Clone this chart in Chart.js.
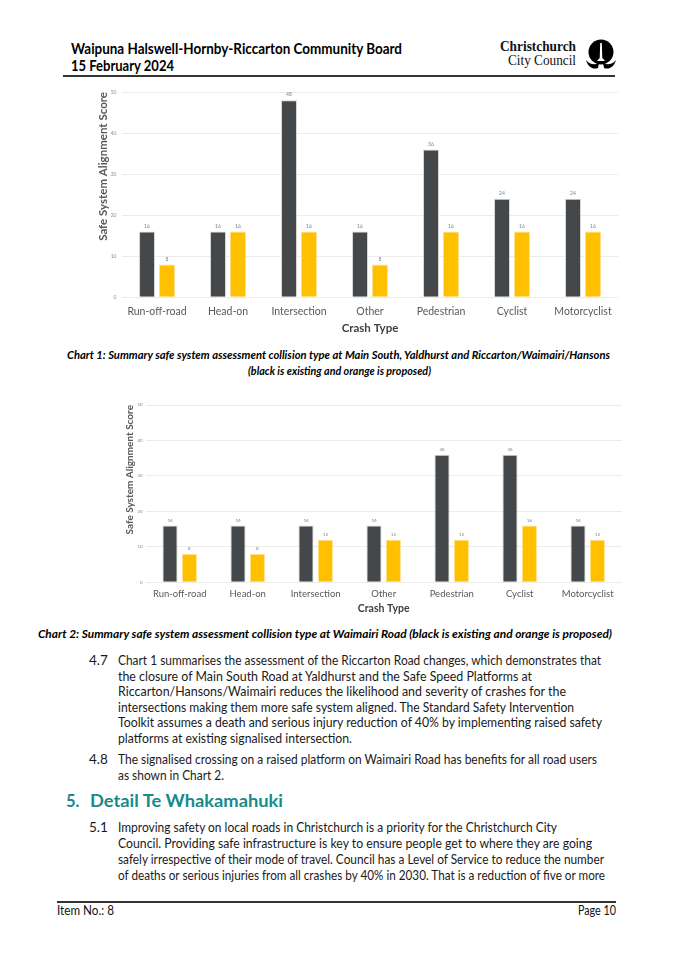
<!DOCTYPE html>
<html><head><meta charset="utf-8">
<script src="https://cdn.jsdelivr.net/npm/chart.js@4/dist/chart.umd.min.js"></script>
<style>
html,body{margin:0;padding:0;background:#fff;}
body{width:675px;height:954px;position:relative;overflow:hidden;font-family:Lato,"Noto Sans",sans-serif;color:#111;}
.t{position:absolute;white-space:nowrap;transform-origin:0 50%;line-height:16px;height:16px;}
.hd{font-weight:700;font-size:14.5px;color:#000;}
.cap{font-weight:700;font-style:italic;font-size:11px;color:#000;}
.bd{font-size:13.5px;color:#1a1a1a;}
.num{font-size:13.5px;color:#1a1a1a;}
.h5{font-weight:700;font-size:16.5px;color:#178a8c;line-height:22px;height:22px;}
.ft{font-size:12.5px;color:#111;}
.rule{position:absolute;background:#333;}
.chartbox{position:absolute;}
.logo1{position:absolute;font-family:"Liberation Serif","DejaVu Serif",serif;font-weight:700;font-size:15px;line-height:15px;white-space:nowrap;transform-origin:0 50%;}
.logo2{position:absolute;font-family:"Liberation Serif","DejaVu Serif",serif;font-size:14.5px;line-height:15px;white-space:nowrap;transform-origin:0 50%;}
</style></head>
<body>
<!-- header -->
<div class="t hd" style="left:71px;top:41px;" data-w="331">Waipuna Halswell-Hornby-Riccarton Community Board</div>
<div class="t hd" style="left:71px;top:58px;" data-w="103">15 February 2024</div>
<div class="rule" style="left:63px;top:75px;width:552px;height:1.5px;"></div>
<div class="logo1" style="left:500px;top:39px;" data-w="76">Christchurch</div>
<div class="logo2" style="left:508px;top:53px;" data-w="68">City Council</div>
<svg style="position:absolute;left:580px;top:38px;" width="42" height="36" viewBox="0 0 42 36">
  <circle cx="21" cy="14" r="12.5" fill="#000"/>
  <path d="M20.2 5 L21.8 5 L22.3 20 L25 23 L17 23 L19.7 20 Z" fill="#fff"/>
  <path d="M6 22 C10 27 15 27 19 25 L18 30 C13 32 8 29 6 22 Z" fill="#000"/>
  <path d="M36 22 C32 27 27 27 23 25 L24 30 C29 32 34 29 36 22 Z" fill="#000"/>
</svg>

<!-- chart 1 -->
<div class="chartbox" style="left:80px;top:82px;width:545px;height:258px;"><canvas id="c1"></canvas></div>
<div class="t cap" style="left:67px;top:347px;" data-w="543">Chart 1: Summary safe system assessment collision type at Main South, Yaldhurst and Riccarton/Waimairi/Hansons</div>
<div class="t cap" style="left:248px;top:363px;" data-w="183">(black is existing and orange is proposed)</div>

<!-- chart 2 -->
<div class="chartbox" style="left:120px;top:395px;width:510px;height:225px;"><canvas id="c2"></canvas></div>
<div class="t cap" style="left:38px;top:626px;" data-w="574">Chart 2: Summary safe system assessment collision type at Waimairi Road (black is existing and orange is proposed)</div>

<!-- 4.7 -->
<div class="t num" style="left:89px;top:652px;">4.7</div>
<div class="t bd" style="left:118px;top:652px;" data-w="483">Chart 1 summarises the assessment of the Riccarton Road changes, which demonstrates that</div>
<div class="t bd" style="left:118px;top:667.5px;" data-w="414">the closure of Main South Road at Yaldhurst and the Safe Speed Platforms at</div>
<div class="t bd" style="left:118px;top:683px;" data-w="448">Riccarton/Hansons/Waimairi reduces the likelihood and severity of crashes for the</div>
<div class="t bd" style="left:118px;top:698.5px;" data-w="456">intersections making them more safe system aligned. The Standard Safety Intervention</div>
<div class="t bd" style="left:118px;top:714px;" data-w="484">Toolkit assumes a death and serious injury reduction of 40% by implementing raised safety</div>
<div class="t bd" style="left:118px;top:729.5px;" data-w="234">platforms at existing signalised intersection.</div>

<!-- 4.8 -->
<div class="t num" style="left:89px;top:751px;">4.8</div>
<div class="t bd" style="left:118px;top:751px;" data-w="479">The signalised crossing on a raised platform on Waimairi Road has benefits for all road users</div>
<div class="t bd" style="left:118px;top:766.5px;" data-w="106">as shown in Chart 2.</div>

<!-- 5 -->
<div class="t h5" style="left:66px;top:790px;">5.</div>
<div class="t h5" style="left:90px;top:790px;" data-w="193">Detail Te Whakamahuki</div>

<div class="t num" style="left:89px;top:819px;">5.1</div>
<div class="t bd" style="left:118px;top:819px;" data-w="439">Improving safety on local roads in Christchurch is a priority for the Christchurch City</div>
<div class="t bd" style="left:118px;top:835px;" data-w="474">Council. Providing safe infrastructure is key to ensure people get to where they are going</div>
<div class="t bd" style="left:118px;top:851px;" data-w="486">safely irrespective of their mode of travel. Council has a Level of Service to reduce the number</div>
<div class="t bd" style="left:118px;top:867px;" data-w="487">of deaths or serious injuries from all crashes by 40% in 2030. That is a reduction of five or more</div>

<!-- footer -->
<div class="rule" style="left:57px;top:901px;width:559px;height:1.5px;"></div>
<div class="t ft" style="left:57px;top:903px;" data-w="57">Item No.: 8</div>
<div class="t ft" style="left:578px;top:903px;" data-w="38">Page 10</div>

<script>
// ---- data ----
const categories = ['Run-off-road', 'Head-on', 'Intersection', 'Other', 'Pedestrian', 'Cyclist', 'Motorcyclist'];
const chart1Existing = [16, 16, 48, 16, 36, 24, 24];
const chart1Proposed = [8, 16, 16, 8, 16, 16, 16];
const chart2Existing = [16, 16, 16, 16, 36, 36, 16];
const chart2Proposed = [8, 8, 12, 12, 12, 16, 12];
const yTickValues = [0, 10, 20, 30, 40, 50];
const yAxisTitle = 'Safe System Alignment Score';
const xAxisTitle = 'Crash Type';

// fit text widths
function fitText(){
  document.querySelectorAll('[data-w]').forEach(el=>{
    el.style.transform='none';
    const w = el.getBoundingClientRect().width;
    if (w>0) el.style.transform = 'scaleX(' + (parseFloat(el.dataset.w)/w) + ')';
  });
}
fitText();

const FONT = 'Lato, "Noto Sans", sans-serif';
const darkColor = '#45484b';
const orangeColor = '#ffc000';

const valueLabels = {
  id: 'valueLabels',
  afterDatasetsDraw(chart, args, opts) {
    const ctx = chart.ctx;
    ctx.save();
    ctx.font = opts.size + 'px ' + FONT;
    ctx.fillStyle = '#7f7f7f';
    ctx.textAlign = 'center';
    ctx.textBaseline = 'bottom';
    chart.data.datasets.forEach((ds, i) => {
      const meta = chart.getDatasetMeta(i);
      meta.data.forEach((bar, j) => {
        ctx.fillText(String(ds.data[j]), bar.x, bar.y - opts.gap);
      });
    });
    ctx.restore();
  }
};

function makeChart(id, existing, proposed, g) {
  return new Chart(document.getElementById(id), {
    type: 'bar',
    data: {
      labels: categories,
      datasets: [
        { label: 'Existing', data: existing, backgroundColor: darkColor, borderColor: '#d6d6d6', borderWidth: 1,
          categoryPercentage: g.cat, barPercentage: g.bar },
        { label: 'Proposed', data: proposed, backgroundColor: orangeColor, borderColor: '#ffe08a', borderWidth: 1,
          categoryPercentage: g.cat, barPercentage: g.bar }
      ]
    },
    options: {
      responsive: true,
      maintainAspectRatio: false,
      animation: false,
      layout: { padding: { top: g.padTop, right: g.padRight, left: 0, bottom: 0 } },
      plugins: { legend: { display: false }, tooltip: { enabled: false }, valueLabels: { size: g.valSize, gap: g.valGap } },
      scales: {
        x: {
          grid: { display: false, drawTicks: false },
          border: { display: false },
          ticks: { color: '#595959', font: { family: FONT, size: g.catSize }, padding: g.catPad, maxRotation: 0, autoSkip: false },
          title: { display: true, text: xAxisTitle, color: '#404040', font: { family: FONT, size: g.xtSize, weight: 'bold' }, padding: { top: 0, bottom: g.xtPad } },
          afterFit: s => { s.height = g.xH; }
        },
        y: {
          min: 0, max: 50,
          afterBuildTicks: s => { s.ticks = yTickValues.map(v => ({ value: v })); },
          grid: { color: '#ebebeb', lineWidth: 1, drawTicks: false },
          border: { display: false },
          ticks: { color: '#8c8c8c', font: { family: FONT, size: g.tickSize }, padding: g.tickPad },
          title: { display: true, text: yAxisTitle, align: 'end', color: '#595959', font: { family: FONT, size: g.ytSize, weight: 'bold' }, padding: { top: g.ytPad, bottom: 0 } },
          afterFit: s => { s.width = g.yW; }
        }
      }
    },
    plugins: [valueLabels]
  });
}

makeChart('c1', chart1Existing, chart1Proposed, {
  cat: 0.563, bar: 0.8, padTop: 10, padRight: 6.5, yW: 41.5, xH: 42.7,
  catSize: 10.5, catPad: 8, xtSize: 11.5, xtPad: 5, tickSize: 5, tickPad: 5, ytSize: 11.5, ytPad: 16, valSize: 5, valGap: 3
});
makeChart('c2', chart2Existing, chart2Proposed, {
  cat: 0.57, bar: 0.78, padTop: 10, padRight: 8.3, yW: 25.7, xH: 37.7,
  catSize: 9.5, catPad: 6, xtSize: 10.5, xtPad: 5.5, tickSize: 4.5, tickPad: 3, ytSize: 10, ytPad: 3.5, valSize: 4.5, valGap: 3
});
</script>
</body></html>
